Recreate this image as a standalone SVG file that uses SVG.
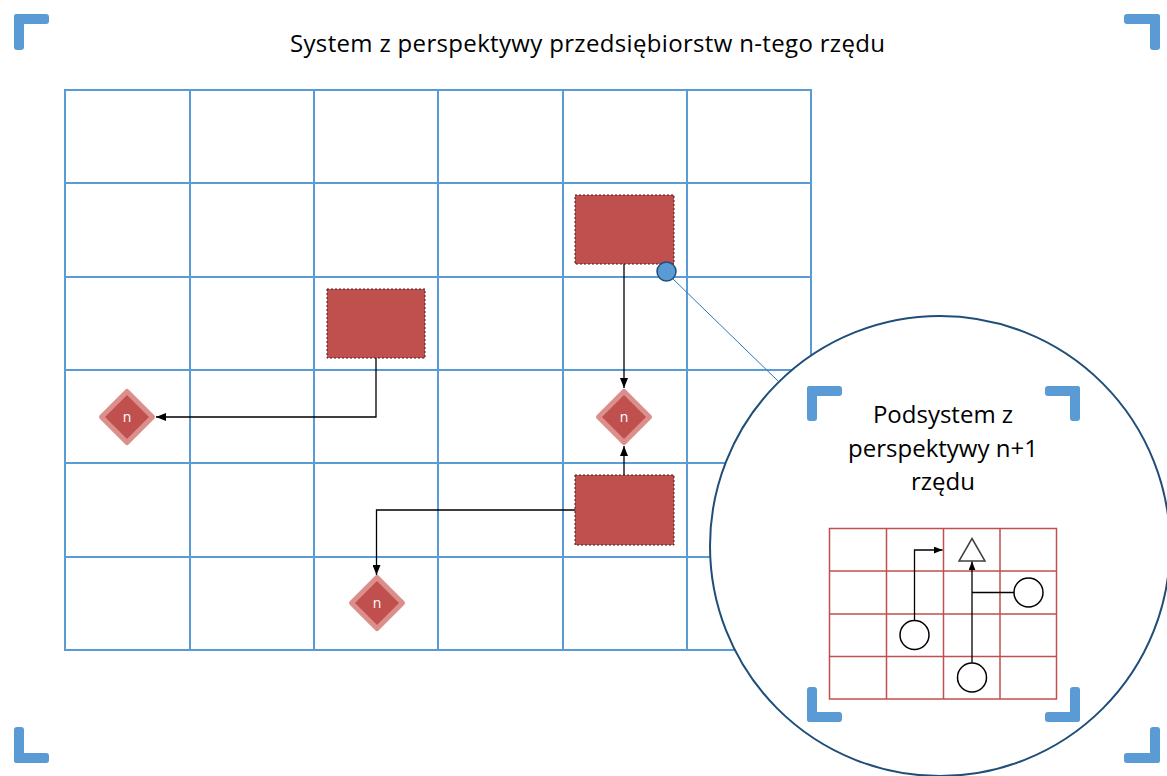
<svg xmlns="http://www.w3.org/2000/svg" width="1167" height="776" viewBox="0 0 1167 776">
  <style>
    .grid { stroke: #5b9bd5; stroke-width: 2; fill: none; }
    .bracket { fill: #5b9bd5; }
    .title { font-family: "Open Sans", "Liberation Sans", sans-serif; font-size: 24px; fill: #000; text-anchor: middle; }
    .block { fill: #c0504d; stroke: #4d1b1a; stroke-width: 1; stroke-dasharray: 2 2; }
    .dia { fill: #c0504d; stroke: #dc8e8b; stroke-width: 5; stroke-linejoin: round; }
    .dlabel { font-family: "Open Sans", "Liberation Sans", sans-serif; font-size: 14px; fill: #fff; text-anchor: middle; }
    .conn { stroke: #000; stroke-width: 1.3; fill: none; }
    .sub { stroke: #c0504d; stroke-width: 1.5; fill: none; }
    .token { fill: #fff; stroke: #000; stroke-width: 1.5; }
  </style>
  <defs>
    <marker id="arrow" viewBox="0 0 10 8" refX="10" refY="4" markerWidth="10" markerHeight="8" markerUnits="userSpaceOnUse" orient="auto">
      <path d="M0,0 L10,4 L0,8 Z" fill="#000"/>
    </marker>
    <marker id="arrowSm" viewBox="0 0 10 8" refX="10" refY="4" markerWidth="9" markerHeight="7" markerUnits="userSpaceOnUse" orient="auto">
      <path d="M0,0 L10,4 L0,8 Z" fill="#000"/>
    </marker>
  </defs>

  <rect width="1167" height="776" fill="#fff"/>

  <!-- frame corners -->
  <g id="frame">
    <rect class="bracket" x="14" y="14" width="35" height="10" rx="3"/>
    <rect class="bracket" x="14" y="14" width="10" height="36" rx="3"/>
    <rect class="bracket" x="1124" y="14" width="36" height="10" rx="3"/>
    <rect class="bracket" x="1150" y="14" width="10" height="36" rx="3"/>
    <rect class="bracket" x="14" y="753" width="35" height="10" rx="3"/>
    <rect class="bracket" x="14" y="727" width="10" height="36" rx="3"/>
    <rect class="bracket" x="1124" y="753" width="36" height="10" rx="3"/>
    <rect class="bracket" x="1150" y="727" width="10" height="36" rx="3"/>
  </g>

  <text id="title" class="title" x="587.5" y="52" textLength="595" lengthAdjust="spacing">System z perspektywy przedsiębiorstw n-tego rzędu</text>

  <!-- main grid -->
  <g id="grid" class="grid">
    <rect x="65" y="90" width="746" height="560"/>
    <path d="M190,90 V650 M314,90 V650 M438,90 V650 M563,90 V650 M687,90 V650"/>
    <path d="M65,183 H811 M65,277 H811 M65,370 H811 M65,463 H811 M65,557 H811"/>
  </g>

  <!-- enterprises -->
  <g id="block-top"><rect class="block" x="575" y="195" width="99" height="69"/></g>
  <g id="block-mid"><rect class="block" x="327" y="289" width="98" height="69"/></g>
  <g id="block-bottom"><rect class="block" x="575" y="475" width="99" height="70"/></g>

  <g id="node-left">
    <path class="dia" d="M127,391.5 L152.5,417 L127,442.5 L101.5,417 Z"/>
    <text class="dlabel" x="127" y="422">n</text>
  </g>
  <g id="node-right">
    <path class="dia" d="M624,391.5 L649.5,417 L624,442.5 L598.5,417 Z"/>
    <text class="dlabel" x="624" y="422">n</text>
  </g>
  <g id="node-bottom">
    <path class="dia" d="M377,577.5 L402.5,603 L377,628.5 L351.5,603 Z"/>
    <text class="dlabel" x="377" y="608">n</text>
  </g>

  <g id="connectors">
    <path class="conn" d="M376,358 V417 H156" marker-end="url(#arrow)"/>
    <path class="conn" d="M624,264 V388" marker-end="url(#arrow)"/>
    <path class="conn" d="M624,475 V446" marker-end="url(#arrow)"/>
    <path class="conn" d="M575,510 H376.5 V575" marker-end="url(#arrow)"/>
    <line x1="672" y1="278" x2="778" y2="381" stroke="#2e75b6" stroke-width="1"/>
  </g>

  <!-- magnified subsystem -->
  <g id="zoom-lens">
    <circle cx="940" cy="546" r="230" fill="#fff" stroke="#1f4e79" stroke-width="2"/>
  </g>

  <g id="focus-point">
    <circle cx="666.5" cy="271.5" r="9.5" fill="#5b9bd5" stroke="#1f4e79" stroke-width="1.5"/>
  </g>

  <g id="subsystem">
    <g class="bracket">
      <rect x="807" y="386" width="35" height="10" rx="3"/>
      <rect x="807" y="386" width="10" height="35" rx="3"/>
      <rect x="1045" y="386" width="35" height="10" rx="3"/>
      <rect x="1070" y="386" width="10" height="35" rx="3"/>
      <rect x="807" y="712" width="35" height="10" rx="3"/>
      <rect x="807" y="687" width="10" height="35" rx="3"/>
      <rect x="1045" y="712" width="35" height="10" rx="3"/>
      <rect x="1070" y="687" width="10" height="35" rx="3"/>
    </g>
    <text class="title" x="943" y="423">Podsystem z</text>
    <text class="title" x="943" y="456.5">perspektywy n+1</text>
    <text class="title" x="943" y="490">rzędu</text>

    <g class="sub">
      <rect x="829.5" y="528.5" width="227" height="170.5"/>
      <path d="M886.5,528.5 V699 M943.5,528.5 V699 M1000,528.5 V699"/>
      <path d="M829.5,571 H1056.5 M829.5,614 H1056.5 M829.5,656.5 H1056.5"/>
    </g>

    <path d="M972,538.5 L985,561 L959,561 Z" fill="#fff" stroke="#404040" stroke-width="1.5" stroke-linejoin="miter"/>

    <path class="conn" d="M914.5,620.5 V550 H942.5" marker-end="url(#arrowSm)"/>
    <path class="conn" d="M972,663 V561.5" marker-end="url(#arrowSm)"/>
    <path class="conn" d="M1014,592.5 H972"/>

    <circle class="token" cx="914.5" cy="635" r="14.5"/>
    <circle class="token" cx="1028.5" cy="592.5" r="14.5"/>
    <circle class="token" cx="972" cy="677.5" r="14.5"/>
  </g>
</svg>
